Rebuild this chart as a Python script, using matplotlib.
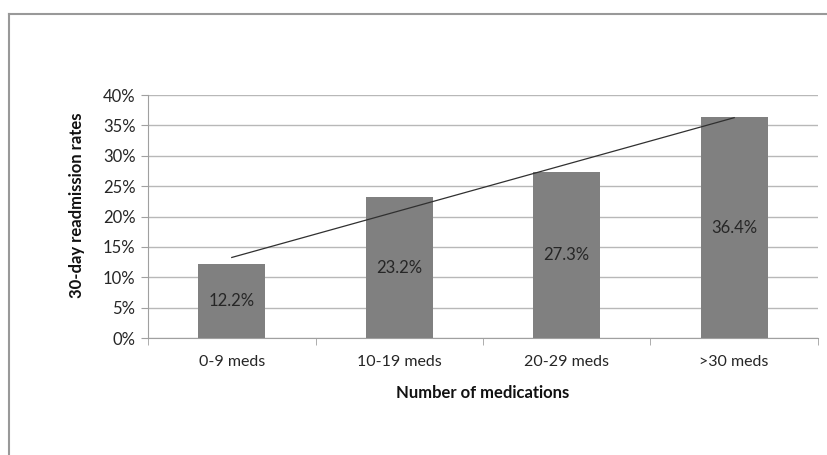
import matplotlib.pyplot as plt
import numpy as np

# Readmission rates by number of medications
categories = ['0-9 meds', '10-19 meds', '20-29 meds', '>30 meds']
rates = [12.2, 23.2, 27.3, 36.4]
bar_labels = ['12.2%', '23.2%', '27.3%', '36.4%']

plt.rcParams['font.family'] = ['Lato', 'DejaVu Sans']

fig = plt.figure(figsize=(8.27, 4.55), dpi=100)
ax = fig.add_axes([0.179, 0.257, 0.810, 0.534])

x = np.arange(len(categories))
bars = ax.bar(x, rates, width=0.4, color='#808080', zorder=3)
for b, lab in zip(bars, bar_labels):
    ax.text(b.get_x() + b.get_width() / 2, b.get_height() / 2, lab,
            ha='center', va='center', fontsize=12, color='#262626', zorder=4)

# linear trend line
coef = np.polyfit(x, rates, 1)
ax.plot(x, np.polyval(coef, x), color='#303030', lw=0.9, zorder=4)

ax.set_xlim(-0.5, len(categories) - 0.5)
ax.set_ylim(0, 40)
ax.set_yticks(np.arange(0, 41, 5))
ax.set_yticklabels([f'{v}%' for v in range(0, 41, 5)])
ax.yaxis.grid(True, color='#b8b8b8', lw=1, zorder=0)

ax.set_xticks(x)
ax.set_xticklabels(categories)
ax.set_xticks(np.arange(-0.5, len(categories)), minor=True)
ax.tick_params(axis='x', which='major', length=0, pad=12, labelsize=11.5, colors='#262626')
ax.tick_params(axis='x', which='minor', length=5, color='#a0a0a0', direction='out')
ax.tick_params(axis='y', length=5, color='#a0a0a0', labelsize=12, labelcolor='#262626', pad=4)

for s in ['top', 'right']:
    ax.spines[s].set_visible(False)
for s in ['left', 'bottom']:
    ax.spines[s].set_color('#a0a0a0')

ax.set_ylabel('30-day readmission rates', fontsize=12, fontweight='bold', color='#111111', labelpad=13)
ax.yaxis.label.set_y(0.545)
ax.set_xlabel('Number of medications', fontsize=12, fontweight='bold', color='#111111', labelpad=12)

# chart frame (top and left edges visible)
fig.add_artist(plt.Line2D([9 / 827, 1], [1 - 14 / 455, 1 - 14 / 455], color='#999999', lw=1.5))
fig.add_artist(plt.Line2D([9 / 827, 9 / 827], [0, 1 - 14 / 455], color='#999999', lw=1.5))

fig.savefig('out.png', dpi=100)
